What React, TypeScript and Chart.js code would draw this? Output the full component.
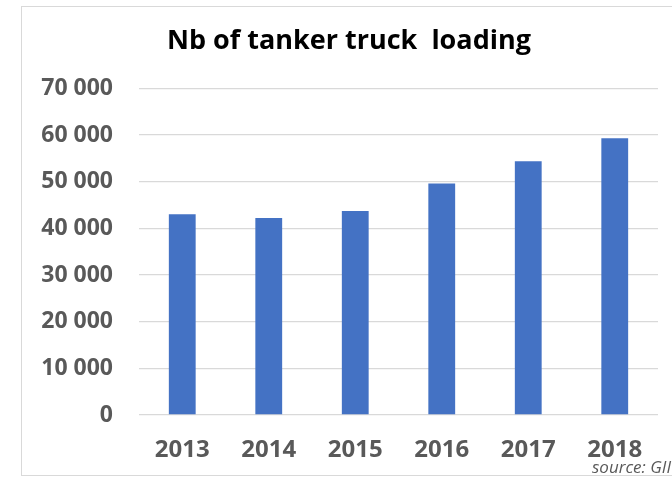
import { useEffect, useRef } from 'react';
import { Chart, registerables } from 'chart.js';

Chart.register(...registerables);

const years: string[] = ['2013', '2014', '2015', '2016', '2017', '2018'];
const loadings: number[] = [43000, 42200, 43700, 49600, 54400, 59300];
const yMin = 0;
const yMax = 70000;
const yStep = 10000;
const titleText = 'Nb of tanker truck  loading';
const sourceText = 'source: GIIGNL';

const FONT = '"Open Sans", "Liberation Sans", sans-serif';

const fmt = (v: number) => String(v).replace(/\B(?=(\d{3})+(?!\d))/g, ' ');

const framePlugin = {
  id: 'frameAndSource',
  afterDraw(chart: any) {
    const ctx = chart.ctx;
    ctx.save();
    ctx.strokeStyle = '#d9d9d9';
    ctx.lineWidth = 1;
    ctx.strokeRect(21.5, 6.5, 700, 469);
    ctx.font = `italic 17px ${FONT}`;
    ctx.fillStyle = '#595959';
    ctx.textAlign = 'left';
    ctx.textBaseline = 'middle';
    ctx.fillText(sourceText, 592, 468);
    ctx.restore();
  },
};

export default function App() {
  const ref = useRef<HTMLCanvasElement | null>(null);

  useEffect(() => {
    if (!ref.current) return;
    const chart = new Chart(ref.current, {
      type: 'bar',
      data: {
        labels: years,
        datasets: [
          {
            data: loadings,
            backgroundColor: '#4472C4',
            borderWidth: 0,
            categoryPercentage: 1,
            barPercentage: 0.31,
          },
        ],
      },
      options: {
        animation: false,
        responsive: false,
        devicePixelRatio: 1,
        layout: { padding: { left: 40, right: 14, top: 0, bottom: 15 } },
        plugins: {
          legend: { display: false },
          tooltip: { enabled: false },
          title: {
            display: true,
            text: titleText,
            color: '#000000',
            font: { family: FONT, size: 27, weight: 'bold' },
            padding: { top: 25, bottom: 31 },
          },
        },
        scales: {
          x: {
            afterFit(scale: any) {
              scale.height = 47;
            },
            grid: { display: false, drawTicks: false },
            border: { display: false },
            ticks: {
              color: '#595959',
              font: { family: FONT, size: 24, weight: 'bold' },
              padding: 21,
              maxRotation: 0,
            },
          },
          y: {
            min: yMin,
            max: yMax,
            afterFit(scale: any) {
              scale.width = 99;
            },
            grid: { color: '#d9d9d9', lineWidth: 1.3, drawTicks: false },
            border: { display: false },
            ticks: {
              stepSize: yStep,
              color: '#595959',
              font: { family: FONT, size: 23, weight: 'bold' },
              padding: 26,
              callback: (v: any) => fmt(Number(v)),
            },
          },
        },
      },
      plugins: [framePlugin],
    });
    return () => chart.destroy();
  }, []);

  return (
    <div style={{ position: 'fixed', left: 0, top: 0, width: 672, height: 477, background: '#fff' }}>
      <canvas ref={ref} width={672} height={477} />
    </div>
  );
}
